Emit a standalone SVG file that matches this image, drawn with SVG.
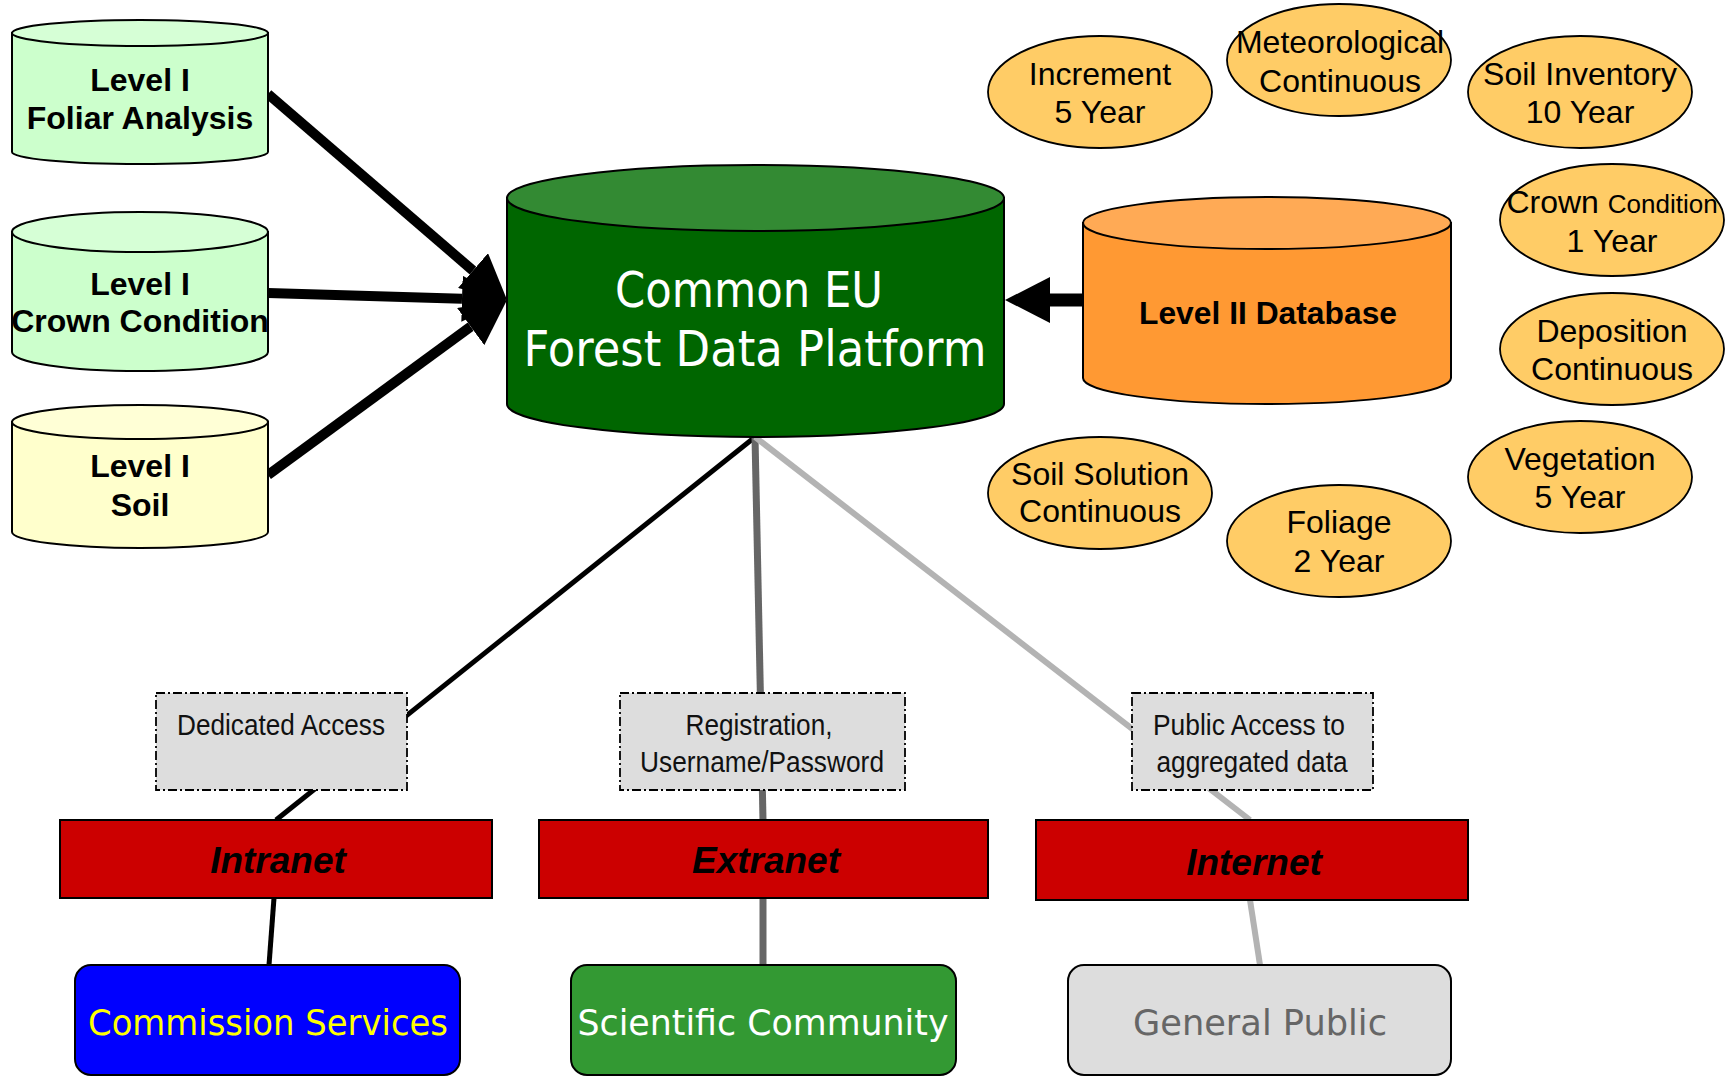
<svg xmlns="http://www.w3.org/2000/svg" width="1733" height="1078" viewBox="0 0 1733 1078">
<style>
.stk{stroke:#000;stroke-width:2}
.cyl-txt{font-family:"Liberation Sans",Arial,sans-serif;font-weight:bold;font-size:32px;fill:#000;text-anchor:middle}
.ell{fill:#FFCC66;stroke:#000;stroke-width:1.8}
.ell-txt{font-family:"Liberation Sans",Arial,sans-serif;font-size:32px;fill:#000;text-anchor:middle}
.big-txt{font-family:"DejaVu Sans",Verdana,sans-serif;fill:#fff;text-anchor:middle}
.lbl{fill:#DDDDDD;stroke:#000;stroke-width:1.8;stroke-dasharray:9 3 2 3}
.lbl-txt{font-family:"Liberation Sans",Arial,sans-serif;font-size:30px;fill:#111;text-anchor:middle}
.bar{fill:#CC0000;stroke:#000;stroke-width:2}
.bar-txt{font-family:"Liberation Sans",Arial,sans-serif;font-size:37px;font-weight:bold;font-style:italic;fill:#000;text-anchor:middle}
.aud{stroke:#000;stroke-width:2}
.aud-txt{font-family:"DejaVu Sans",Verdana,sans-serif;font-size:36px;text-anchor:middle}
.thick{stroke:#000;stroke-width:10;fill:none}
</style>
<defs>
<marker id="head" markerUnits="userSpaceOnUse" viewBox="0 0 45 46" refX="0" refY="23" markerWidth="45" markerHeight="46" orient="auto">
<path d="M0,0 L45,23 L0,46 Z" fill="#000"/>
</marker>
</defs>

<g id="connectors">
<path class="thick" d="M268,94 L473,270.6" marker-end="url(#head)"/>
<path class="thick" d="M268,293 L462,298.7" marker-end="url(#head)"/>
<path class="thick" d="M268,475 L470.7,326.6" marker-end="url(#head)"/>
<path d="M1083,300 L1050,300" stroke="#000" stroke-width="13" fill="none" marker-end="url(#head)"/>
<line x1="755" y1="437" x2="276" y2="820" stroke="#000" stroke-width="5"/>
<line x1="274" y1="898" x2="269" y2="965" stroke="#000" stroke-width="5"/>
<line x1="755" y1="437" x2="763" y2="820" stroke="#666666" stroke-width="7"/>
<line x1="763" y1="898" x2="763" y2="965" stroke="#666666" stroke-width="7"/>
<line x1="755" y1="437" x2="1250" y2="820" stroke="#B3B3B3" stroke-width="6"/>
<line x1="1250" y1="900" x2="1260" y2="965" stroke="#B3B3B3" stroke-width="6"/>
</g>

<g id="level1-foliar">
<path class="stk" fill="#CCFFCC" d="M12,33 V152 A128,12 0 0 0 268,152 V33 Z"/>
<ellipse class="stk" cx="140" cy="33" rx="128" ry="13" fill="#D6FFD6"/>
<text class="cyl-txt" x="140" y="91">Level I</text>
<text class="cyl-txt" x="140" y="129">Foliar Analysis</text>
</g>

<g id="level1-crown">
<path class="stk" fill="#CCFFCC" d="M12,232 V352 A128,19 0 0 0 268,352 V232 Z"/>
<ellipse class="stk" cx="140" cy="232" rx="128" ry="20" fill="#D6FFD6"/>
<text class="cyl-txt" x="140" y="295">Level I</text>
<text class="cyl-txt" x="140" y="332">Crown Condition</text>
</g>

<g id="level1-soil">
<path class="stk" fill="#FFFFCC" d="M12,422 V532 A128,16 0 0 0 268,532 V422 Z"/>
<ellipse class="stk" cx="140" cy="422" rx="128" ry="17" fill="#FFFFD6"/>
<text class="cyl-txt" x="140" y="477">Level I</text>
<text class="cyl-txt" x="140" y="516">Soil</text>
</g>

<g id="platform">
<path class="stk" fill="#006600" d="M507,198 V404 A248.5,33 0 0 0 1004,404 V198 Z"/>
<ellipse class="stk" cx="755.5" cy="198" rx="248.5" ry="33" fill="#338A33"/>
<text class="big-txt" x="749" y="307" font-size="50" textLength="268" lengthAdjust="spacingAndGlyphs">Common EU</text>
<text class="big-txt" x="755" y="366" font-size="50" textLength="463" lengthAdjust="spacingAndGlyphs">Forest Data Platform</text>
</g>

<g id="level2">
<path class="stk" fill="#FF9933" d="M1083,223 V378 A184,26 0 0 0 1451,378 V223 Z"/>
<ellipse class="stk" cx="1267" cy="223" rx="184" ry="26" fill="#FFAA55"/>
<text class="cyl-txt" x="1268" y="324" textLength="258" lengthAdjust="spacingAndGlyphs">Level II Database</text>
</g>

<g id="increment">
<ellipse class="ell" cx="1100" cy="92" rx="112" ry="56"/>
<text class="ell-txt" x="1100" y="85">Increment</text>
<text class="ell-txt" x="1100" y="123">5 Year</text>
</g>
<g id="meteorological">
<ellipse class="ell" cx="1339" cy="60" rx="112" ry="56"/>
<text class="ell-txt" x="1340" y="53">Meteorological</text>
<text class="ell-txt" x="1340" y="92">Continuous</text>
</g>
<g id="soil-inventory">
<ellipse class="ell" cx="1580" cy="92" rx="112" ry="56"/>
<text class="ell-txt" x="1580" y="85">Soil Inventory</text>
<text class="ell-txt" x="1580" y="123">10 Year</text>
</g>
<g id="crown-condition">
<ellipse class="ell" cx="1612" cy="220" rx="112" ry="56"/>
<text class="ell-txt" x="1612" y="213"><tspan>Crown </tspan><tspan font-size="26">Condition</tspan></text>
<text class="ell-txt" x="1612" y="252">1 Year</text>
</g>
<g id="deposition">
<ellipse class="ell" cx="1612" cy="349" rx="112" ry="56"/>
<text class="ell-txt" x="1612" y="342">Deposition</text>
<text class="ell-txt" x="1612" y="380">Continuous</text>
</g>
<g id="vegetation">
<ellipse class="ell" cx="1580" cy="477" rx="112" ry="56"/>
<text class="ell-txt" x="1580" y="470">Vegetation</text>
<text class="ell-txt" x="1580" y="508">5 Year</text>
</g>
<g id="foliage">
<ellipse class="ell" cx="1339" cy="541" rx="112" ry="56"/>
<text class="ell-txt" x="1339" y="533">Foliage</text>
<text class="ell-txt" x="1339" y="572">2 Year</text>
</g>
<g id="soil-solution">
<ellipse class="ell" cx="1100" cy="493" rx="112" ry="56"/>
<text class="ell-txt" x="1100" y="485">Soil Solution</text>
<text class="ell-txt" x="1100" y="522">Continuous</text>
</g>

<g id="label-dedicated">
<rect class="lbl" x="156" y="693" width="251" height="97"/>
<text class="lbl-txt" x="281" y="735" textLength="208" lengthAdjust="spacingAndGlyphs">Dedicated Access</text>
</g>
<g id="label-registration">
<rect class="lbl" x="620" y="693" width="285" height="97"/>
<text class="lbl-txt" x="759" y="735" textLength="147" lengthAdjust="spacingAndGlyphs">Registration,</text>
<text class="lbl-txt" x="762" y="772" textLength="244" lengthAdjust="spacingAndGlyphs">Username/Password</text>
</g>
<g id="label-public">
<rect class="lbl" x="1132" y="693" width="241" height="97"/>
<text class="lbl-txt" x="1249" y="735" textLength="192" lengthAdjust="spacingAndGlyphs">Public Access to</text>
<text class="lbl-txt" x="1252" y="772" textLength="191" lengthAdjust="spacingAndGlyphs">aggregated data</text>
</g>

<g id="intranet">
<rect class="bar" x="60" y="820" width="432" height="78"/>
<text class="bar-txt" x="278" y="873">Intranet</text>
</g>
<g id="extranet">
<rect class="bar" x="539" y="820" width="449" height="78"/>
<text class="bar-txt" x="766" y="873">Extranet</text>
</g>
<g id="internet">
<rect class="bar" x="1036" y="820" width="432" height="80"/>
<text class="bar-txt" x="1254" y="875">Internet</text>
</g>

<g id="commission">
<rect class="aud" x="75" y="965" width="385" height="110" rx="16" fill="#0000FF"/>
<text class="aud-txt" x="268" y="1035" fill="#FFFF00" textLength="360" lengthAdjust="spacingAndGlyphs">Commission Services</text>
</g>
<g id="scientific">
<rect class="aud" x="571" y="965" width="385" height="110" rx="16" fill="#339933"/>
<text class="aud-txt" x="763" y="1035" fill="#FFFFFF" textLength="371" lengthAdjust="spacingAndGlyphs">Scientific Community</text>
</g>
<g id="public">
<rect class="aud" x="1068" y="965" width="383" height="110" rx="16" fill="#DDDDDD"/>
<text class="aud-txt" x="1260" y="1035" fill="#666666" textLength="254" lengthAdjust="spacingAndGlyphs">General Public</text>
</g>
</svg>
